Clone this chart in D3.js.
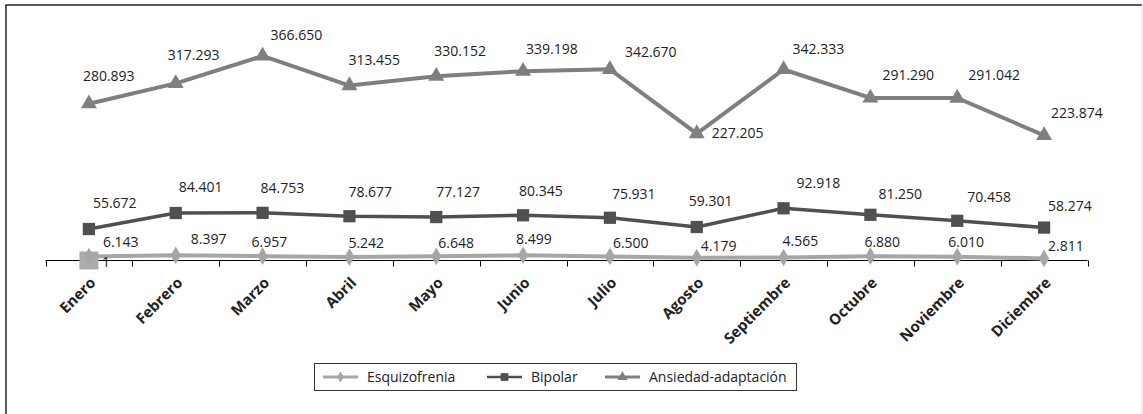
<!DOCTYPE html>
<meta charset="utf-8">
<script src="https://d3js.org/d3.v7.min.js"></script>
<style>
  body { margin: 0; background: #fff; }
  text { font-family: "Open Sans", sans-serif; }
</style>
<div id="my_dataviz"></div>
<script>

// data
var months = ["Enero", "Febrero", "Marzo", "Abril", "Mayo", "Junio", "Julio",
  "Agosto", "Septiembre", "Octubre", "Noviembre", "Diciembre"];
var esquizofrenia = [6.143, 8.397, 6.957, 5.242, 6.648, 8.499, 6.500, 4.179, 4.565, 6.880, 6.010, 2.811];
var bipolar = [55.672, 84.401, 84.753, 78.677, 77.127, 80.345, 75.931, 59.301, 92.918, 81.250, 70.458, 58.274];
var ansiedad = [280.893, 317.293, 366.650, 313.455, 330.152, 339.198, 342.670, 227.205, 342.333, 291.290, 291.042, 223.874];
var seriesNames = ["Esquizofrenia", "Bipolar", "Ansiedad-adaptación"];
// stray marker left over at Enero in the original figure
var strayValue = [1];

// label placement relative to each point (dx, dy)
var labelOffsets = {
  esq: [[14,-14],[15,-16],[-11,-14],[-1,-14],[2,-13],[-7,-16],[3,-13],[4,-12],[-1,-16],[-6,-14],[-9,-15],[4,-12]],
  bip: [[4,-26],[3,-26],[-2,-25],[-1,-24],[0,-25],[-4,-24],[2,-24],[-8,-26],[13,-25],[8,-21],[10,-24],[4,-21]],
  ans: [[-6,-28],[-8,-28],[8,-21],[-1,-25],[-2,-25],[3,-22],[15,-17],[15,0],[9,-20],[12,-23],[11,-23],[7,-22]]
};

var W = 1143, H = 414;
var svg = d3.select("#my_dataviz").append("svg")
  .attr("width", W).attr("height", H);

// outer frame
svg.append("line").attr("x1", 6).attr("y1", 5).attr("x2", 6).attr("y2", H)
  .style("stroke", "#222").style("stroke-width", 1.5);
svg.append("line").attr("x1", 5.5).attr("y1", 5).attr("x2", 1142).attr("y2", 5)
  .style("stroke", "#222").style("stroke-width", 1.5);
svg.append("line").attr("x1", 1142).attr("y1", 5).attr("x2", 1142).attr("y2", H)
  .style("stroke", "#ddd").style("stroke-width", 1);

var x = d3.scaleBand().domain(months).range([45.5, 1087.5]);
var y = d3.scaleLinear().domain([0, 400]).range([260, 37.4]);
var cx = function(i) { return x(months[i]) + x.bandwidth() / 2; };

// X axis
var xAxis = svg.append("g")
  .attr("transform", "translate(0,260.5)")
  .call(d3.axisBottom(x).tickSize(0).tickFormat(""));
xAxis.select(".domain").attr("d", "M45.5,0H1087.5").style("stroke", "#000");
var boundaries = months.map(function(m) { return x(m); }).concat([x.range()[1]]);
xAxis.selectAll(".tk").data(boundaries).enter().append("line")
  .attr("x1", function(d) { return Math.round(d) + 0.5; })
  .attr("x2", function(d) { return Math.round(d) + 0.5; })
  .attr("y1", 0).attr("y2", 6)
  .style("stroke", "#000");

svg.append("g").selectAll("text").data(months).enter().append("text")
  .attr("transform", function(d, i) { return "translate(" + (cx(i) + 4) + ",280) rotate(-45)"; })
  .attr("text-anchor", "end")
  .attr("dy", "0.35em")
  .style("font-size", "15px").style("font-weight", "bold").style("fill", "#222")
  .text(function(d) { return d; });

var line = d3.line()
  .x(function(d, i) { return cx(i); })
  .y(function(d) { return y(d); });

var series = [
  {key: "esq", name: seriesNames[0], values: esquizofrenia, color: "#a6a6a6", width: 4, marker: d3.symbolDiamond, size: 90},
  {key: "bip", name: seriesNames[1], values: bipolar, color: "#505050", width: 3.5, marker: d3.symbolSquare, size: 150},
  {key: "ans", name: seriesNames[2], values: ansiedad, color: "#7f7f7f", width: 4, marker: d3.symbolTriangle, size: 110}
];

// stray square
svg.append("g").selectAll("rect").data(strayValue).enter().append("rect")
  .attr("x", cx(0) - 9.5).attr("y", function(d) { return y(d) - 8; })
  .attr("width", 19).attr("height", 18)
  .style("fill", "#ababab");

series.forEach(function(s) {
  var g = svg.append("g");
  g.append("path").datum(s.values)
    .attr("d", line)
    .style("fill", "none").style("stroke", s.color)
    .style("stroke-width", s.width).style("stroke-linejoin", "round");
  g.selectAll("path.m").data(s.values).enter().append("path")
    .attr("class", "m")
    .attr("transform", function(d, i) { return "translate(" + cx(i) + "," + y(d) + ")"; })
    .attr("d", d3.symbol().type(s.marker).size(s.size))
    .style("fill", s.color);
  g.selectAll("text").data(s.values).enter().append("text")
    .attr("x", function(d, i) { return cx(i) + labelOffsets[s.key][i][0]; })
    .attr("y", function(d, i) { return y(d) + labelOffsets[s.key][i][1]; })
    .attr("dy", "0.35em")
    .style("font-size", "14px").style("fill", "#222")
    .text(function(d) { return d3.format(".3f")(d); });
});

svg.append("g").selectAll("text").data(strayValue).enter().append("text")
  .attr("x", cx(0) + 13).attr("y", function(d) { return y(d) + 3; })
  .attr("dy", "0.35em")
  .style("font-size", "14px").style("fill", "#222")
  .text(function(d) { return d; });

// legend
var legend = svg.append("g");
legend.append("rect")
  .attr("x", 314.5).attr("y", 363.5).attr("width", 482).attr("height", 27)
  .style("fill", "#fff").style("stroke", "#333").style("stroke-width", 1);
var legX = [323, 487, 605];
series.forEach(function(s, i) {
  var lg = legend.append("g").attr("transform", "translate(" + legX[i] + ",377)");
  lg.append("line").attr("x1", 0).attr("x2", 35).attr("y1", 0).attr("y2", 0)
    .style("stroke", s.color).style("stroke-width", s.width - 1);
  lg.append("path").attr("transform", "translate(17.5,0)")
    .attr("d", d3.symbol().type(s.marker).size(s.size * 0.4))
    .style("fill", s.color);
  lg.append("text").attr("x", 44).attr("dy", "0.35em")
    .style("font-size", "14px").style("fill", "#222")
    .text(s.name);
});

</script>
